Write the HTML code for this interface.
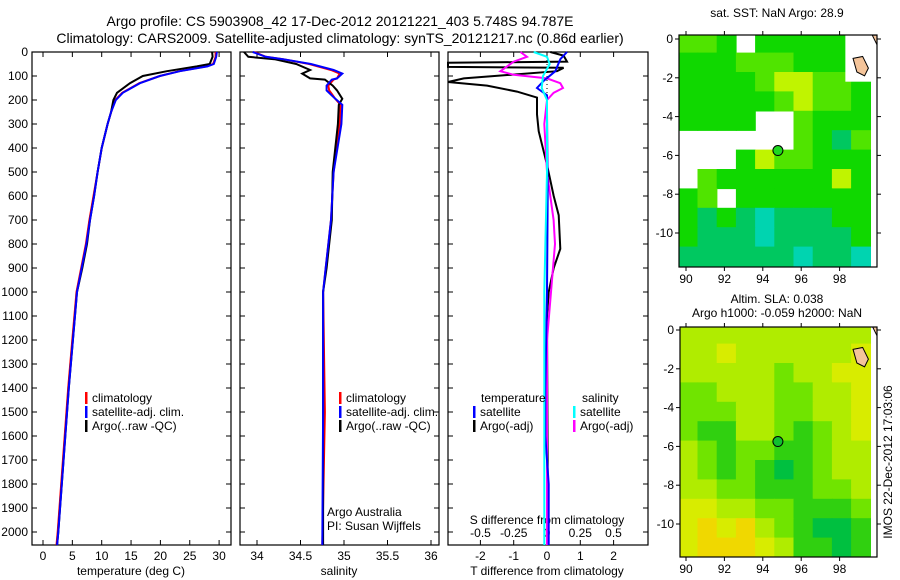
<!DOCTYPE html>
<html><head><meta charset="utf-8"><style>
html,body{margin:0;padding:0;background:#fff;}
svg{display:block;font-family:"Liberation Sans",sans-serif;}
</style></head><body>
<svg id="chart" width="900" height="580" xmlns="http://www.w3.org/2000/svg">
<text x="340" y="26" font-size="14" text-anchor="middle">Argo profile: CS 5903908_42 17-Dec-2012 20121221_403 5.748S 94.787E</text>
<text x="340" y="43" font-size="14" text-anchor="middle">Climatology: CARS2009. Satellite-adjusted climatology: synTS_20121217.nc (0.86d earlier)</text>
<text x="777" y="17" font-size="12" text-anchor="middle">sat. SST: NaN Argo: 28.9</text>
<text x="777" y="303" font-size="12" text-anchor="middle">Altim. SLA: 0.038</text>
<text x="777" y="317" font-size="12" text-anchor="middle">Argo h1000: -0.059 h2000: NaN</text>
<text x="0" y="0" font-size="12" text-anchor="middle" transform="translate(892,462) rotate(-90)">IMOS 22-Dec-2012 17:03:06</text>
<g id="g"></g>
</svg>
<script>
// ---- data ----
const depthTicks=[0,100,200,300,400,500,600,700,800,900,1000,1100,1200,1300,1400,1500,1600,1700,1800,1900,2000];
const tempTicks=[0,5,10,15,20,25,30];
const salTicks=[34,34.5,35,35.5,36];
const tdiffTicks=[-2,-1,0,1,2];
const sdiffTicks=[-0.5,-0.25,0,0.25,0.5];
const lonTicks=[90,92,94,96,98];
const latTicks=[0,-2,-4,-6,-8,-10];

const tDepth=[0,20,50,60,80,100,130,170,200,250,300,400,500,600,700,800,900,1000,1200,1400,1600,1800,2000,2054];
const tArgo=[28.8,28.9,28.4,26.2,21.1,17,14.8,12.6,12.0,11.6,11.0,10.0,9.3,8.7,8.0,7.5,6.7,5.8,5.1,4.4,3.8,3.2,2.6,2.4];
const tClim=[29.4,29.4,29.0,27.8,23.2,19.9,16.4,13.5,12.3,11.6,11.0,10.0,9.3,8.6,7.9,7.3,6.5,5.7,5.0,4.3,3.7,3.1,2.5,2.3];
const tSat=[29.6,29.5,29.1,28.0,23.3,19.9,16.5,13.6,12.4,11.6,11.0,10.0,9.3,8.7,8.0,7.4,6.6,5.8,5.1,4.4,3.8,3.2,2.6,2.4];

const sDepth=[0,20,30,50,75,90,110,115,140,160,195,220,300,500,700,900,1000,1500,2054];
const sArgo=[33.85,33.9,34.2,34.45,34.61,34.52,34.61,34.78,34.87,34.92,34.98,34.94,34.93,34.87,34.86,34.8,34.76,34.76,34.76];
const sClim=[33.97,34.1,34.3,34.6,34.85,34.95,34.92,34.88,34.82,34.83,34.9,34.96,34.95,34.88,34.85,34.79,34.76,34.78,34.75];
const sSat=[33.95,34.1,34.3,34.62,34.88,34.98,34.92,34.86,34.8,34.8,34.9,34.98,34.97,34.88,34.85,34.79,34.76,34.76,34.75];

const dDepthA=[0,15,40,45,62,66,80,110,125,140,165,190,260,330,470,600,680,820,900,1000,1100,2054];
const dTArgo=[0.1,0.5,0.6,-3,-3,0.5,0.3,-2.5,-3,-1.8,-0.9,-0.3,-0.3,-0.25,0,0.2,0.35,0.4,0.2,0.05,0,0.03];
const dDepthB=[0,30,80,120,150,180,250,600,1000,1400,1600,1800,2054];
const dTSat=[0.6,0.4,0.25,-0.1,-0.3,0,0,0.02,0,-0.05,-0.05,0.05,0.05];
const dDepthS=[0,20,40,60,80,95,110,130,150,170,200,300,500,700,800,1000,1200,2054];
const dSArgo=[-0.2,-0.15,-0.25,-0.3,-0.35,-0.25,0,0.1,0.12,0.05,0,-0.02,0,0.05,0.06,0.03,0,0];
const dDepthC=[0,20,50,100,150,200,500,1000,1500,2054];
const dSSat=[-0.1,0,0.02,-0.03,-0.04,0,0,-0.02,-0.02,-0.02];

const sstGrid=[
[3,3,2,-1,2,2,2,2,2,-1],
[2,2,2,3,3,3,2,2,2,-1],
[2,2,2,2,3,4,4,3,3,2],
[2,2,2,2,2,3,4,3,3,2],
[2,2,2,2,-1,-1,3,2,2,2],
[-1,-1,-1,-1,-1,-1,3,2,1,3],
[-1,-1,-1,2,4,3,3,2,2,2],
[-1,3,2,2,2,2,2,2,4,2],
[2,3,-1,2,2,2,2,2,2,2],
[2,1,2,1,0,1,1,1,2,2],
[2,1,1,1,0,1,1,1,1,2],
[1,1,1,1,1,1,0,1,1,0]];
const slaGrid=[
[3,3,3,3,3,3,3,3,3,3],
[3,3,4,3,3,3,3,3,3,4],
[3,3,3,3,3,2,3,3,4,4],
[2,2,3,3,3,2,2,3,3,4],
[2,2,2,3,3,2,2,3,3,4],
[2,1,1,3,3,2,1,2,3,4],
[3,2,1,2,2,1,1,2,3,3],
[3,2,1,2,1,0,1,2,3,3],
[3,3,2,2,1,1,1,2,2,3],
[4,4,3,3,2,2,1,1,1,2],
[4,5,4,5,3,2,1,0,0,1],
[4,5,5,5,4,3,1,1,0,1]];
const sstColors=['#00d4b0','#00c860','#10d800','#50e400','#c0f400'];
const slaColors=['#00c040','#30d010','#70e400','#b0ec00','#d8ec00','#f0d800'];
const argoLon=[94.787], argoLat=[-5.748];

// ---- helpers ----
const NS='http://www.w3.org/2000/svg';
const G=document.getElementById('g');
function mk(tag,attrs,parent){const e=document.createElementNS(NS,tag);for(const k in attrs)e.setAttribute(k,attrs[k]);(parent||G).appendChild(e);return e;}
const top0=52, pxPer100=24, yBot=545;
const yD=d=>top0+d*pxPer100/100;
const xT=v=>43+5.87*v;
const xS=v=>257+87*(v-34);
const xDT=v=>547+33.3*v;
const xDS=v=>547+133*v;

function panel(x0,x1,name){
  const r=mk('rect',{x:x0,y:top0,width:x1-x0,height:yBot-top0,fill:'none',stroke:'#000','stroke-width':1.2});
  
  
}
function line(xs,ds,xf,color,name,clipx0,clipx1){
  let p='';
  for(let i=0;i<xs.length;i++){let x=Math.max(clipx0,Math.min(clipx1,xf(xs[i])));p+=(i?'L':'M')+x.toFixed(1)+','+yD(ds[i]).toFixed(1);}
  const e=mk('path',{d:p,fill:'none',stroke:color,'stroke-width':2});
  
  
}
function xticks(ticks,xf,y,name,labels){
  ticks.forEach(t=>{
    mk('line',{x1:xf(t),x2:xf(t),y1:yBot,y2:yBot-5,stroke:'#000'});
    mk('line',{x1:xf(t),x2:xf(t),y1:top0,y2:top0+5,stroke:'#000'});
    if(labels){const e=mk('text',{x:xf(t),y:y,'font-size':12,'text-anchor':'middle'});e.textContent=String(t);
      
      }
  });
}
function legend(x,y,items,name){
  items.forEach((it,i)=>{
    mk('rect',{x:x,y:y+i*14-10,width:2.5,height:12,fill:it[0]});
    const e=mk('text',{x:x+7,y:y+i*14,'font-size':12});e.textContent=it[1];
    
    
  });
}

// panels
panel(32,231,'temperature-panel');
panel(240,439,'salinity-panel');
panel(448,648,'difference-panel');

// depth ticks
depthTicks.forEach(d=>{
  const e=mk('text',{x:28,y:yD(d)+4,'font-size':12,'text-anchor':'end'});e.textContent=String(d);
  
  
  [[32,231],[240,439],[448,648]].forEach(p=>{
    mk('line',{x1:p[0],x2:p[0]+5,y1:yD(d),y2:yD(d),stroke:'#000'});
    mk('line',{x1:p[1],x2:p[1]-5,y1:yD(d),y2:yD(d),stroke:'#000'});
  });
});
xticks(tempTicks,xT,560,'temperature-tick-label',true);
xticks(salTicks,xS,560,'salinity-tick-label',true);
xticks(tdiffTicks,xDT,560,'tdiff-tick-label',true);
sdiffTicks.forEach(t=>{const e=mk('text',{x:xDS(t),y:537,'font-size':12,'text-anchor':'middle'});e.textContent=String(t);
  
  });
[['temperature (deg C)',131,'x-axis-title-temperature'],['salinity',339,'x-axis-title-salinity'],['T difference from climatology',547,'x-axis-title-tdiff']].forEach(a=>{
  const e=mk('text',{x:a[1],y:575,'font-size':12,'text-anchor':'middle'});e.textContent=a[0];
  
  });
{const e=mk('text',{x:547,y:524,'font-size':12,'text-anchor':'middle'});e.textContent='S difference from climatology';
  
  }

// zero dotted line
mk('line',{x1:547,x2:547,y1:top0,y2:yD(2054),stroke:'#000','stroke-dasharray':'1,3'});

// series
line(tClim,tDepth,xT,'#f00','temp-climatology-line',32,231);
line(tArgo,tDepth,xT,'#000','temp-argo-line',32,231);
line(tSat,tDepth,xT,'#00f','temp-satellite-line',32,231);
line(sClim,sDepth,xS,'#f00','sal-climatology-line',240,439);
line(sArgo,sDepth,xS,'#000','sal-argo-line',240,439);
line(sSat,sDepth,xS,'#00f','sal-satellite-line',240,439);
line(dTArgo,dDepthA,xDT,'#000','tdiff-argo-line',448,648);
line(dSArgo,dDepthS,xDS,'#f0f','sdiff-argo-line',448,648);
line(dTSat,dDepthB,xDT,'#00f','tdiff-satellite-line',448,648);
line(dSSat,dDepthC,xDS,'#0ff','sdiff-satellite-line',448,648);

// legends
legend(85,402,[['#f00','climatology'],['#00f','satellite-adj. clim.'],['#000','Argo(..raw -QC)']],'temp-legend-entry');
legend(339,402,[['#f00','climatology'],['#00f','satellite-adj. clim.'],['#000','Argo(..raw -QC)']],'sal-legend-entry');
{const e=mk('text',{x:481,y:402,'font-size':12});e.textContent='temperature';
 
 }
{const e=mk('text',{x:582,y:402,'font-size':12});e.textContent='salinity';
 
 }
legend(473,416,[['#00f','satellite'],['#000','Argo(-adj)']],'diff-legend-entry');
legend(573,416,[['#0ff','satellite'],['#f0f','Argo(-adj)']],'diff-legend-entry');
{const e=mk('text',{x:327,y:516,'font-size':12});e.textContent='Argo Australia';
 
 
 const f=mk('text',{x:327,y:530,'font-size':12});f.textContent='PI: Susan Wijffels';
 
 }

// maps
function map(x0,y0,x1,y1,lat0px,grid,colors,name,sst){
  const lx=v=>686+19.2*(v-90);
  const ly=v=>lat0px-19.4*v;
  const cp=mk('clipPath',{id:name+'-clip'});mk('rect',{x:x0,y:y0,width:x1-x0,height:y1-y0},cp);
  const g=mk('g',{'clip-path':'url(#'+name+'-clip)'});
  
  
  grid.forEach((row,r)=>row.forEach((v,c)=>{
    if(v<0)return;
    const cell=mk('rect',{x:lx(89.6+c).toFixed(1),y:ly(0.3-r).toFixed(1),width:19.9,height:20.1,fill:colors[v]},g);
    
    
  }));
  if(sst){mk('rect',{x:lx(98.3),y:y0,width:40,height:ly(-2.2)-y0,fill:'#fff'},g);}
  const land=mk('path',{d:`M${lx(98.7)},${ly(-1.0)} L${lx(99.2)},${ly(-0.9)} L${lx(99.5)},${ly(-1.5)} L${lx(99.3)},${ly(-1.9)} L${lx(98.9)},${ly(-1.7)} Z M${lx(99.7)},${ly(0.2)} L${lx(100)},${ly(0.2)} L${lx(100)},${ly(-0.4)} Z`,fill:'#f4c49a',stroke:'#000','stroke-width':1},g);
  
  
  mk('rect',{x:x0,y:y0,width:x1-x0,height:y1-y0,fill:'none',stroke:'#000','stroke-width':1.2});
  lonTicks.forEach(t=>{mk('line',{x1:lx(t),x2:lx(t),y1:y1,y2:y1+4,stroke:'#000'});mk('line',{x1:lx(t),x2:lx(t),y1:y0,y2:y0-4,stroke:'#000'});
    const e=mk('text',{x:lx(t),y:y1+16,'font-size':12,'text-anchor':'middle'});e.textContent=String(t);
    
    });
  latTicks.forEach(t=>{mk('line',{x1:x0,x2:x0-4,y1:ly(t),y2:ly(t),stroke:'#000'});mk('line',{x1:x1,x2:x1+4,y1:ly(t),y2:ly(t),stroke:'#000'});
    const e=mk('text',{x:x0-6,y:ly(t)+4,'font-size':12,'text-anchor':'end'});e.textContent=String(t);
    
    });
  const m=mk('circle',{cx:lx(argoLon[0]),cy:ly(argoLat[0]),r:5,fill:sst?'#20d820':'#10c030',stroke:'#000','stroke-width':1});
  
  
}
map(679,35,877,267,39,sstGrid,sstColors,'sst-map',true);
map(680,327,877,557,330,slaGrid,slaColors,'sla-map',false);
</script>
</body></html>
